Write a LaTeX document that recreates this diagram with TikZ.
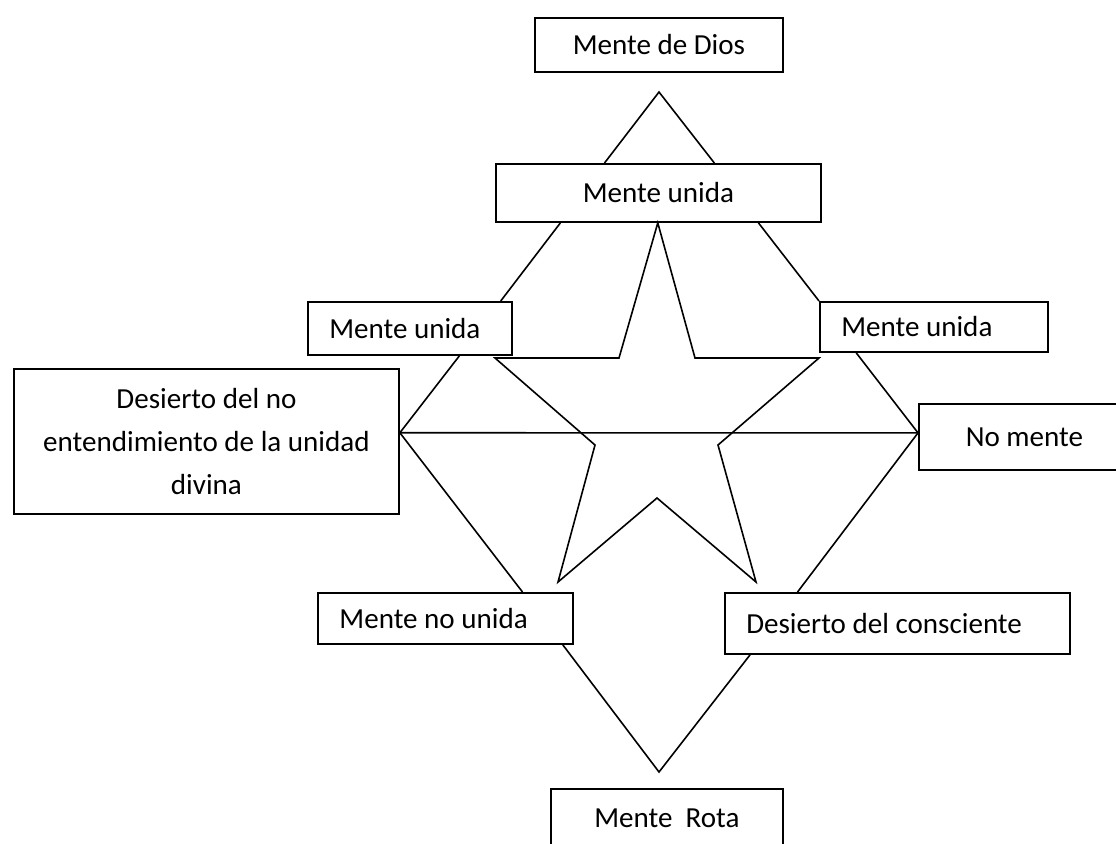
\documentclass[tikz,border=0pt]{standalone}
\usepackage{fontspec}
\setmainfont{Carlito}
\usetikzlibrary{calc}
\begin{document}
\begin{tikzpicture}[x=0.75pt,y=-0.75pt,
  box/.style={draw, line width=1.4pt, rectangle, anchor=north west, inner sep=0pt,
    font=\fontsize{21.8pt}{32pt}\selectfont, align=center},
  lbox/.style={box, inner xsep=16pt, align=flush left},
  conn/.style={line width=1.2pt, line join=miter}]
\useasboundingbox (0,0) rectangle (1116,843);
\clip (0,0) rectangle (1116,843);
\fill[white] (0,0) rectangle (1116,843);
% boxes
\node[box, minimum width=186pt, minimum height=40.5pt] (dios) at (534,17) {Mente de Dios};
\node[box, minimum width=243.75pt, minimum height=43.5pt] (mut) at (495,163) {Mente unida};
\node[lbox, minimum width=153pt, minimum height=39.75pt, text width=121pt] (mul) at (307,301) {Mente unida};
\node[lbox, minimum width=171pt, minimum height=37.5pt, text width=139pt] (mur) at (819,301) {Mente unida};
\node[box, minimum width=288.75pt, minimum height=108.75pt] (des) at (13,368) {Desierto del no\\entendimiento de la unidad\\divina};
\node[box, minimum width=158.25pt, minimum height=49.5pt] (nom) at (918,403) {No mente};
\node[lbox, minimum width=191.25pt, minimum height=38.25pt, text width=159pt] (mnu) at (317,592) {Mente no unida};
\node[lbox, minimum width=258.75pt, minimum height=45.75pt, text width=226.75pt] (ddc) at (724,592) {Desierto del consciente};
\node[box, minimum width=174pt, minimum height=43.5pt] (rota) at (550,788) {Mente~ Rota};
% connectors
\coordinate (apexT) at (659,92);
\coordinate (apexB) at (659,772);
\coordinate (dE) at ($(des.north east)!0.441!(des.south east)$);
\coordinate (nW) at ($(nom.north west)!0.44!(nom.south west)$);
\draw[conn] ($(mut.north west)!0.335!(mut.north east)$) -- (apexT) -- ($(mut.north west)!0.671!(mut.north east)$);
\draw[conn] ($(mut.south west)!0.2!(mut.south east)$) -- ($(mul.north west)!0.941!(mul.north east)$);
\draw[conn] ($(mut.south west)!0.806!(mut.south east)$) -- (mur.north west);
\draw[conn] ($(mul.south west)!0.74!(mul.south east)$) -- (dE);
\draw[conn] ($(mur.south west)!0.162!(mur.south east)$) -- (nW);
\draw[conn] (dE) -- (nW);
\draw[conn] (dE) -- ($(mnu.north west)!0.8!(mnu.north east)$);
\draw[conn] (nW) -- ($(ddc.north west)!0.212!(ddc.north east)$);
\draw[conn] ($(mnu.south west)!0.957!(mnu.south east)$) -- (apexB) -- ($(ddc.south west)!0.075!(ddc.south east)$);
% star
\draw[conn] ($(mut.south west)!0.498!(mut.south east)$) -- (695,358) -- (819,358) -- (718,445) -- (756,582) -- (657,498) -- (558,582) -- (595,445) -- (495,358) -- (619,358) -- cycle;
\end{tikzpicture}
\end{document}
